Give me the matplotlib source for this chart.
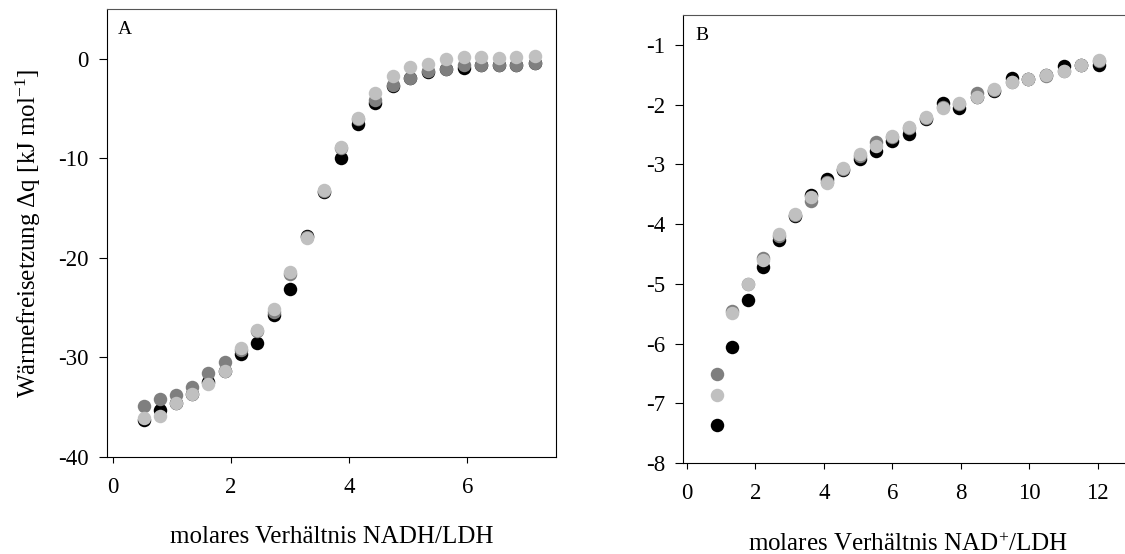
import matplotlib
matplotlib.use("Agg")
import matplotlib.pyplot as plt

plt.rcParams["font.family"] = ["Liberation Serif", "DejaVu Serif"]
plt.rcParams["mathtext.fontset"] = "custom"
plt.rcParams["mathtext.rm"] = "Liberation Serif"
plt.rcParams["mathtext.it"] = "Liberation Serif:italic"
plt.rcParams["axes.unicode_minus"] = False

# panel A: NADH titration
xa = [0.53, 0.80, 1.07, 1.34, 1.61, 1.89, 2.16, 2.44, 2.72, 3.00, 3.28, 3.57,
      3.86, 4.15, 4.43, 4.74, 5.03, 5.33, 5.63, 5.94, 6.23, 6.53, 6.82, 7.14]
a_black = [-36.3, -35.3, -34.6, -33.7, -32.5, -31.4, -29.7, -28.5, -25.7, -23.1, -17.8, -13.4,
           -10.0, -6.6, -4.45, -2.7, -1.95, -1.3, -1.0, -0.9, -0.65, -0.6, -0.6, -0.45]
a_dark = [-34.9, -34.2, -33.8, -33.0, -31.6, -30.5, -29.3, -27.3, -25.4, -21.6, -17.9, -13.3,
          -9.0, -6.1, -4.1, -2.6, -1.94, -1.28, -1.0, -0.67, -0.6, -0.6, -0.6, -0.43]
a_light = [-36.1, -35.9, -34.6, -33.7, -32.7, -31.4, -29.1, -27.2, -25.1, -21.4, -18.0, -13.2,
           -8.9, -6.0, -3.4, -1.7, -0.87, -0.53, -0.03, 0.17, 0.17, 0.07, 0.17, 0.3]

# panel B: NAD+ titration
xb = [0.88, 1.33, 1.79, 2.24, 2.70, 3.16, 3.63, 4.10, 4.56, 5.05, 5.53, 6.00,
      6.50, 6.99, 7.47, 7.96, 8.47, 8.98, 9.49, 9.97, 10.49, 11.00, 11.51, 12.02]
b_black = [-7.37, -6.06, -5.28, -4.72, -4.27, -3.87, -3.51, -3.24, -3.10, -2.91, -2.78, -2.61,
           -2.49, -2.25, -1.98, -2.06, -1.87, -1.78, -1.56, -1.57, -1.50, -1.36, -1.33, -1.33]
b_dark = [-6.51, -5.45, -5.00, -4.57, -4.20, -3.85, -3.61, -3.30, -3.08, -2.86, -2.63, -2.55,
          -2.40, -2.22, -2.04, -1.99, -1.81, -1.75, -1.62, -1.57, -1.53, -1.43, -1.33, -1.27]
b_light = [-6.87, -5.49, -5.00, -4.60, -4.17, -3.83, -3.54, -3.32, -3.07, -2.83, -2.69, -2.52,
           -2.38, -2.20, -2.06, -1.98, -1.87, -1.74, -1.63, -1.57, -1.50, -1.43, -1.33, -1.25]

colors = ["black", "#7f7f7f", "#c0c0c0"]

fig = plt.figure(figsize=(11.25, 5.54), dpi=100)
ax_a = fig.add_axes([0.0951, 0.1751, 0.3991, 0.8087])
ax_b = fig.add_axes([0.6074, 0.1643, 0.3989, 0.8087])


def style(ax):
    for side in ["left", "bottom", "right"]:
        ax.spines[side].set_linewidth(0.8)
        ax.spines[side].set_color("black")
    ax.spines["top"].set_linewidth(0.8)
    ax.spines["top"].set_color("#555555")
    ax.tick_params(axis="both", direction="out", labelsize=16.5, width=0.8)
    ax.tick_params(axis="y", length=6, pad=7)
    ax.tick_params(axis="x", length=4.5, pad=10)


for ax, x, series in [(ax_a, xa, [a_black, a_dark, a_light]),
                      (ax_b, xb, [b_black, b_dark, b_light])]:
    for y, c in zip(series, colors):
        ax.plot(x, y, linestyle="none", marker="o", markersize=9.7,
                markerfacecolor=c, markeredgewidth=0, clip_on=False)
    style(ax)

ax_a.set_xlim(-0.1, 7.5)
ax_a.set_ylim(-40, 5)
ax_a.set_xticks([0, 2, 4, 6])
ax_a.set_yticks([-40, -30, -20, -10, 0])
ax_a.set_xlabel("molares Verhältnis NADH/LDH", fontsize=18)
ax_a.xaxis.set_label_coords(0.5, -0.154)
ax_a.set_ylabel("Wärmefreisetzung Δq [kJ mol$^{-1}$]", fontsize=18)
ax_a.yaxis.set_label_coords(-0.143, 0.5)
ax_a.text(0.025, 0.945, "A", transform=ax_a.transAxes, fontsize=14)

ax_b.set_xlim(-0.1, 13.0)
ax_b.set_ylim(-8, -0.5)
ax_b.set_xticks([0, 2, 4, 6, 8, 10, 12])
ax_b.set_yticks([-8, -7, -6, -5, -4, -3, -2, -1])
ax_b.set_xlabel("molares Verhältnis NAD$^{+}$/LDH", fontsize=18)
ax_b.xaxis.set_label_coords(0.5, -0.156)
ax_b.text(0.028, 0.945, "B", transform=ax_b.transAxes, fontsize=14)

fig.savefig("out.png", dpi=100)
